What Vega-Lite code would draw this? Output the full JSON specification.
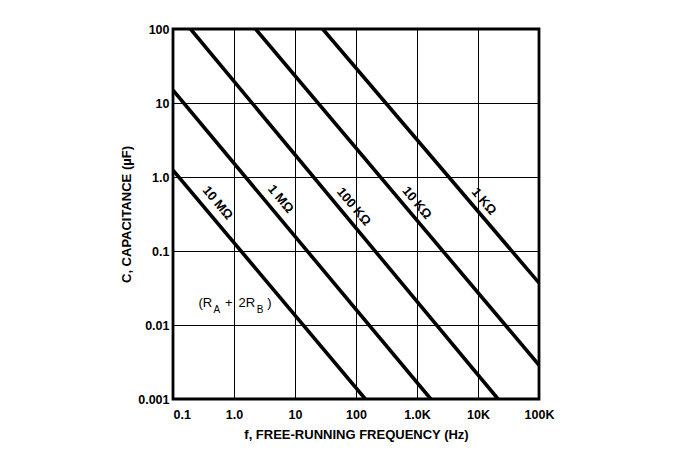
{
  "$schema": "https://vega.github.io/schema/vega-lite/v6.json",
  "width": 366,
  "height": 370,
  "autosize": {"type": "none"},
  "padding": {"left": 173, "top": 29, "right": 134, "bottom": 55},
  "background": "white",
  "config": {
    "view": {"stroke": "black", "strokeWidth": 2.8},
    "axis": {
      "labelFont": "Liberation Sans",
      "labelFontWeight": "bold",
      "labelFontSize": 12.5,
      "labelColor": "black",
      "titleFont": "Liberation Sans",
      "titleFontWeight": "bold",
      "titleFontSize": 13,
      "titleColor": "black",
      "grid": true,
      "gridColor": "black",
      "gridWidth": 1,
      "gridOpacity": 1,
      "tickSize": 0,
      "domain": false,
      "labelOverlap": false,
      "labelBound": false,
      "labelFlush": false
    }
  },
  "datasets": {
    "lines": [
      {"R": "10 MΩ", "f": 0.1, "C": 1.24},
      {"R": "10 MΩ", "f": 142, "C": 0.001},
      {"R": "1 MΩ", "f": 0.1, "C": 14.9},
      {"R": "1 MΩ", "f": 1680, "C": 0.001},
      {"R": "100 KΩ", "f": 0.194, "C": 100},
      {"R": "100 KΩ", "f": 21300, "C": 0.001},
      {"R": "10 KΩ", "f": 2.26, "C": 100},
      {"R": "10 KΩ", "f": 100000, "C": 0.00288},
      {"R": "1 KΩ", "f": 28.5, "C": 100},
      {"R": "1 KΩ", "f": 100000, "C": 0.037}
    ],
    "labels": [
      {"label": "10 MΩ", "f": 0.538, "C": 0.446},
      {"label": "1 MΩ", "f": 5.82, "C": 0.504},
      {"label": "100 KΩ", "f": 92, "C": 0.397},
      {"label": "10 KΩ", "f": 996, "C": 0.446},
      {"label": "1 KΩ", "f": 12550, "C": 0.467}
    ],
    "formula": [
      {"t": "(R", "f": 0.262, "C": 0.0198},
      {"t": "+", "f": 0.714, "C": 0.0198},
      {"t": "2R", "f": 1.19, "C": 0.0198},
      {"t": ")", "f": 3.5, "C": 0.0198}
    ],
    "subs": [
      {"t": "A", "f": 0.462, "C": 0.0158},
      {"t": "B", "f": 2.35, "C": 0.0158}
    ]
  },
  "layer": [
    {
      "data": {"name": "lines"},
      "mark": {"type": "line", "color": "black", "strokeWidth": 3.6, "clip": true},
      "encoding": {
        "x": {
          "field": "f",
          "type": "quantitative",
          "scale": {"type": "log", "domain": [0.1, 100000]},
          "axis": {
            "values": [0.1, 1, 10, 100, 1000, 10000, 100000],
            "labelExpr": "datum.value < 0.5 ? '0.1' : datum.value < 5 ? '1.0' : datum.value < 50 ? '10' : datum.value < 500 ? '100' : datum.value < 5000 ? '1.0K' : datum.value < 50000 ? '10K' : '100K'",
            "labelAlign": {"condition": {"test": "datum.value < 0.5", "value": "left"}, "value": "center"},
            "labelPadding": 9,
            "title": "f, FREE-RUNNING FREQUENCY (Hz)",
            "titleX": 183,
            "titleY": 35,
            "titleAlign": "center",
            "titleBaseline": "middle"
          }
        },
        "y": {
          "field": "C",
          "type": "quantitative",
          "scale": {"type": "log", "domain": [0.001, 100]},
          "axis": {
            "values": [0.001, 0.01, 0.1, 1, 10, 100],
            "labelExpr": "datum.value < 0.005 ? '0.001' : datum.value < 0.05 ? '0.01' : datum.value < 0.5 ? '0.1' : datum.value < 5 ? '1.0' : datum.value < 50 ? '10' : '100'",
            "labelPadding": 4,
            "title": "C, CAPACITANCE (µF)",
            "titleX": -47,
            "titleY": 185,
            "titleAlign": "center",
            "titleBaseline": "middle"
          }
        },
        "detail": {"field": "R"}
      }
    },
    {
      "data": {"name": "labels"},
      "mark": {"type": "text", "angle": 50, "font": "Liberation Sans", "fontWeight": "bold", "fontSize": 13, "align": "center", "baseline": "middle", "color": "black"},
      "encoding": {
        "x": {"field": "f", "type": "quantitative"},
        "y": {"field": "C", "type": "quantitative"},
        "text": {"field": "label"}
      }
    },
    {
      "data": {"name": "formula"},
      "mark": {"type": "text", "font": "Liberation Sans", "fontSize": 13, "align": "left", "baseline": "middle", "color": "black"},
      "encoding": {
        "x": {"field": "f", "type": "quantitative"},
        "y": {"field": "C", "type": "quantitative"},
        "text": {"field": "t"}
      }
    },
    {
      "data": {"name": "subs"},
      "mark": {"type": "text", "font": "Liberation Sans", "fontSize": 10, "align": "left", "baseline": "middle", "color": "black"},
      "encoding": {
        "x": {"field": "f", "type": "quantitative"},
        "y": {"field": "C", "type": "quantitative"},
        "text": {"field": "t"}
      }
    }
  ]
}
